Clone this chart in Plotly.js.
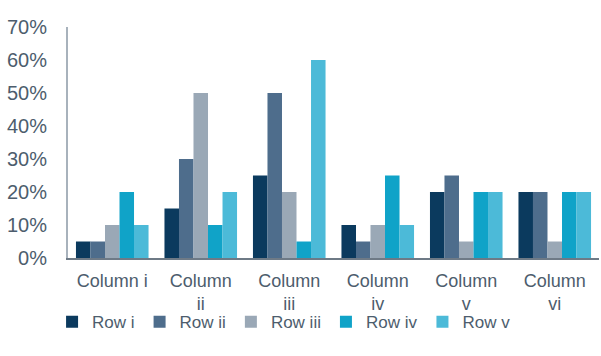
<!DOCTYPE html>
<html><head><meta charset="utf-8">
<script src="https://cdn.plot.ly/plotly-3.0.1.min.js"></script>
<style>body{margin:0;background:#fff}#c{width:601px;height:356px}</style>
</head><body><div id="c"></div>
<script>
var categories = ["Column i", "Column<br>ii", "Column<br>iii", "Column<br>iv", "Column<br>v", "Column<br>vi"];
var rowNames = ["Row i", "Row ii", "Row iii", "Row iv", "Row v"];
var rowI   = [0.05, 0.15, 0.25, 0.10, 0.20, 0.20];
var rowII  = [0.05, 0.30, 0.50, 0.05, 0.25, 0.20];
var rowIII = [0.10, 0.50, 0.20, 0.10, 0.05, 0.05];
var rowIV  = [0.20, 0.10, 0.05, 0.25, 0.20, 0.20];
var rowV   = [0.10, 0.20, 0.60, 0.10, 0.20, 0.20];
var colors = ["#0b3a5e", "#4e6d8c", "#9aa8b6", "#10a3c8", "#4cbad8"];
var series = [rowI, rowII, rowIII, rowIV, rowV];
var data = series.map(function(v, i){
  return {type:"bar", name:rowNames[i], x:categories, y:v, marker:{color:colors[i]}};
});
var txt = "#4d5d6d";
var layout = {
  width:601, height:356,
  margin:{l:68, r:2, t:27, b:98},
  barmode:"group", bargap:0.18, bargroupgap:0,
  paper_bgcolor:"#fff", plot_bgcolor:"#fff",
  font:{family:"Liberation Sans, Arial, sans-serif", color:txt, size:18},
  xaxis:{showline:true, linecolor:"#6e7a86", linewidth:2, ticks:"", tickfont:{size:18, color:txt}, ticklabelstandoff:5},
  yaxis:{range:[0,0.7], dtick:0.1, tickformat:".0%", showgrid:false, zeroline:false, showline:true, linecolor:"#a8b2bc", linewidth:2, ticks:"", tickfont:{size:20, color:txt}, ticklabelstandoff:15},
  showlegend:true,
  legend:{orientation:"h", x:-0.03, xanchor:"left", y:-0.2, yanchor:"top", bgcolor:"rgba(0,0,0,0)", font:{size:17, color:txt}, itemwidth:30, traceorder:"normal"}
};
Plotly.newPlot("c", data, layout, {displayModeBar:false, staticPlot:true});
</script></body></html>
